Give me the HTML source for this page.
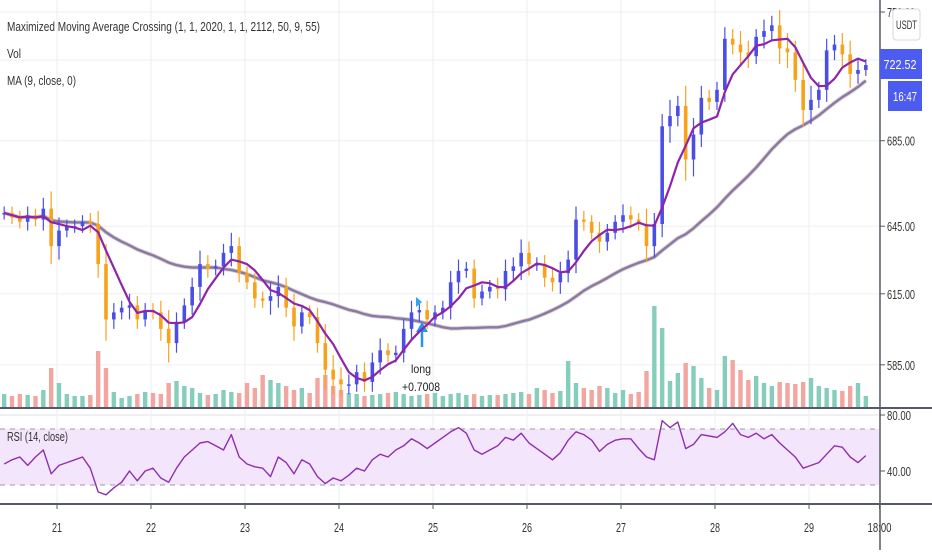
<!DOCTYPE html>
<html><head><meta charset="utf-8">
<style>
html,body{margin:0;padding:0;background:#fff;}
body{width:932px;height:550px;overflow:hidden;font-family:"Liberation Sans",sans-serif;}
svg text{font-family:"Liberation Sans",sans-serif;}
</style></head>
<body>
<svg id="chart" width="932" height="550" viewBox="0 0 932 550" xmlns="http://www.w3.org/2000/svg">
  <g id="grid"></g>
  <rect x="0" y="429" width="879" height="56" fill="#f3e6fc"/>
  <g id="rsiguides"></g>
  <g id="vol"></g>
  <g id="ma"></g>
  <g id="candles"></g>
  <g id="rsi"></g>
  <g id="signal">
    <polygon points="416,297 416,307 422,302" fill="#2fa7f0"/>
    <line x1="422" y1="330" x2="422" y2="347" stroke="#2196f3" stroke-width="2.5"/>
    <polygon points="416,332 422,322 428,332" fill="#2196f3"/>
    <text x="421" y="373" font-size="12" text-anchor="middle" fill="#222" textLength="20" lengthAdjust="spacingAndGlyphs">long</text>
    <text x="421" y="391" font-size="12" text-anchor="middle" fill="#222" textLength="38" lengthAdjust="spacingAndGlyphs">+0.7008</text>
  </g>
  <g id="axes">
    <line x1="880" y1="0" x2="880" y2="550" stroke="#555a66" stroke-width="1.5"/>
    <line x1="0" y1="408" x2="932" y2="408" stroke="#555a66" stroke-width="2"/>
    <line x1="0" y1="504" x2="932" y2="504" stroke="#555a66" stroke-width="2"/>
  </g>
  <g id="ylabels"></g>
  <g id="xlabels"></g>
  <g font-size="13" fill="#333">
    <text x="7" y="31" textLength="313" lengthAdjust="spacingAndGlyphs">Maximized Moving Average Crossing  (1, 1, 2020, 1, 1, 2112, 50, 9, 55)</text>
    <text x="7" y="58" textLength="14" lengthAdjust="spacingAndGlyphs">Vol</text>
    <text x="7" y="85" textLength="69" lengthAdjust="spacingAndGlyphs">MA (9, close, 0)</text>
    <text x="7" y="441" textLength="61" lengthAdjust="spacingAndGlyphs">RSI (14, close)</text>
  </g>
  <g>
    <rect x="893" y="9" width="27" height="31" rx="3" fill="#fff" stroke="#d6d8de"/>
    <text x="906.5" y="29" font-size="12" text-anchor="middle" fill="#333" textLength="21" lengthAdjust="spacingAndGlyphs">USDT</text>
  </g>
  <g>
    <rect x="880" y="49" width="42" height="30" fill="#4d5cf0"/>
    <text x="900" y="69" font-size="13" text-anchor="middle" fill="#fff" textLength="33" lengthAdjust="spacingAndGlyphs">722.52</text>
  </g>
  <g>
    <rect x="888" y="81" width="34" height="30" fill="#4d5cf0"/>
    <text x="905" y="101" font-size="13" text-anchor="middle" fill="#fff" textLength="24" lengthAdjust="spacingAndGlyphs">16:47</text>
  </g>
</svg>
<script>
// ---- data (2-hour bars, reading from the picture) ----
const closes = [651,649,647,650,648,653,636,643,645,645,647,646,628,604,607,609,610,604,608,607,600,594,603,610,618,628,626,627,633,636,624,620,613,612,614,618,609,601,607,605,594,583,579,577,577,582,578,586,591,589,590,600,607,608,604,607,609,620,625,626,613,616,618,617,625,627,633,628,628,622,620,624,630,648,647,642,638,642,647,650,648,646,636,646,692,697,702,676,688,706,704,710,736,733,729,727,737,740,743,731,729,715,700,705,710,730,733,728,718,720,722.5];
const wicks = [3,3,3,4,3,5,8,6,3,3,3,4,6,9,4,3,5,4,3,3,5,8,4,3,4,6,4,3,4,6,4,3,4,3,6,5,4,6,3,3,4,8,6,5,4,3,4,4,5,3,3,4,5,4,4,3,3,5,5,3,4,3,3,4,5,4,6,5,3,4,4,5,4,6,4,3,5,4,3,5,4,3,7,5,6,8,5,10,8,6,4,4,6,5,7,6,4,6,5,8,8,6,8,7,4,6,5,6,7,5,3];
const volumes = [14,12,14,13,12,18,40,25,14,12,12,13,57,40,16,10,12,14,16,15,14,25,27,22,20,15,13,14,18,16,15,25,20,33,28,25,22,18,20,15,30,33,22,18,15,14,12,13,14,15,16,14,12,13,14,15,12,14,15,13,14,12,13,13,14,15,16,14,20,18,15,17,47,25,20,18,22,20,15,18,14,16,37,102,80,27,35,45,42,30,20,18,52,48,38,28,32,25,22,26,25,24,26,30,22,20,18,17,22,25,12];
const rsiValues = [45,48,50,44,50,55,38,44,46,48,50,42,25,23,28,32,40,33,40,42,35,32,42,50,55,60,61,58,55,66,50,45,43,42,36,50,46,38,48,45,36,31,35,33,37,42,40,48,52,50,55,58,63,60,56,60,64,68,71,67,55,52,55,58,64,62,67,60,56,52,48,53,62,68,66,62,54,59,62,63,63,56,50,48,76,71,75,56,59,66,65,64,68,74,66,64,67,63,66,60,55,50,42,44,46,52,58,57,50,46,51];
const dayLabels = ["21","22","23","24","25","26","27","28","29","18:00"];
const dayHours = [0,24,48,72,96,120,144,168,192,210];
const priceTicks = [750,725,685,645,615,585];
const priceTickLabels = ["750.00","","685.00","645.00","615.00","585.00"];
const rsiTicks = [80,40];
const rsiTickLabels = ["80.00","40.00"];
const fastPeriod = 5, slowPeriod = 28;

// ---- scales ----
const NS = "http://www.w3.org/2000/svg";
const X0 = 57, PX_PER_HOUR = 94/24, FIRST_HOUR = -14, BAR_HOURS = 2;
function xHour(h){ return X0 + h*PX_PER_HOUR; }
function xBar(i){ return xHour(FIRST_HOUR + i*BAR_HOURS) + 2; }
function yPrice(p){ return 12 + 1420*Math.log(750/p); }
function yRsi(r){ return 429 + (70 - r)*1.4; }
const VOL_BASE = 408, VOL_PX = 1.0;
function yVol(v){ return VOL_BASE - v*VOL_PX; }

function mk(tag, attrs, parent){
  const e = document.createElementNS(NS, tag);
  for (const k in attrs) e.setAttribute(k, attrs[k]);
  parent.appendChild(e); return e;
}
const G = id => document.getElementById(id);

// grid
const grid = G("grid");
priceTicks.forEach((p,k)=>{
  const l = mk("line",{x1:0,x2:880,y1:yPrice(p),y2:yPrice(p),stroke:"#edf0f4","stroke-width":1.2},grid);
  
  
});
rsiTicks.forEach(r=>{
  const l = mk("line",{x1:0,x2:880,y1:yRsi(r),y2:yRsi(r),stroke:"#e6e8ee","stroke-width":1.2},grid);
  
  
});
dayHours.forEach(h=>{
  const l = mk("line",{x1:xHour(h),x2:xHour(h),y1:0,y2:504,stroke:"#edf0f4","stroke-width":1.2},grid);
  
  
});

// rsi guides
const rg = G("rsiguides");
[70,30].forEach(r=>{
  const l = mk("line",{x1:0,x2:879,y1:yRsi(r),y2:yRsi(r),stroke:"#9a9aa6","stroke-width":1,"stroke-dasharray":"5,5"},rg);
  
  
});

// volume
const vg = G("vol");
volumes.forEach((v,i)=>{
  const o = i>0 ? closes[i-1] : closes[0];
  const up = closes[i] >= o;
  const r = mk("rect",{x:xBar(i)-2.2,y:yVol(v),width:4.4,height:v*VOL_PX,fill: up ? "#86cdbb" : "#f3a5a0"},vg);
  
  
});

// moving averages
function sma(arr, n){
  return arr.map((_,i)=>{ const s = Math.max(0,i-n+1); let t=0; for(let j=s;j<=i;j++) t+=arr[j]; return t/(i-s+1); });
}
function pathOf(vals, yf){ return vals.map((v,i)=>(i?"L":"M")+xBar(i).toFixed(1)+","+yf(v).toFixed(1)).join(" "); }
const mg = G("ma");
const slow = sma(closes, slowPeriod), fast = sma(closes, fastPeriod);
const sh = mk("path",{d:pathOf(slow,yPrice),fill:"none",stroke:"#efc6c9","stroke-width":4.2,"stroke-linejoin":"round"},mg);


const sp = mk("path",{d:pathOf(slow,yPrice),fill:"none",stroke:"#7c7fa8","stroke-width":2.4,"stroke-linejoin":"round"},mg);



// candles
const cg = G("candles");
closes.forEach((c,i)=>{
  const o = i>0 ? closes[i-1] : closes[0];
  const up = c >= o;
  const col = up ? "#4a4ee6" : "#f7a21b";
  const hi = Math.max(o,c)+wicks[i], lo = Math.min(o,c)-wicks[i];
  const g = mk("g",{},cg);
  
  
  const x = xBar(i);
  mk("line",{x1:x,x2:x,y1:yPrice(hi),y2:yPrice(lo),stroke:col,"stroke-width":1.2},g);
  const yt = yPrice(Math.max(o,c)), yb = yPrice(Math.min(o,c));
  mk("rect",{x:x-1.8,y:yt,width:3.6,height:Math.max(1.5,yb-yt),fill:col},g);
});

const fp = mk("path",{d:pathOf(fast,yPrice),fill:"none",stroke:"#8e24aa","stroke-width":2.2,"stroke-linejoin":"round"},mg.parentNode);



// rsi
const rl = mk("path",{d:pathOf(rsiValues,yRsi),fill:"none",stroke:"#8e2fae","stroke-width":1.4,"stroke-linejoin":"round"},G("rsi"));



// axis labels
const yl = G("ylabels");
priceTicks.forEach((p,k)=>{
  if(!priceTickLabels[k]) return;
  const y = yPrice(p);
  mk("line",{x1:880,x2:885,y1:y,y2:y,stroke:"#555a66"},yl);
  const t = mk("text",{x:887,y:y+5,"font-size":13,fill:"#333",textLength:28,lengthAdjust:"spacingAndGlyphs"},yl);
  t.textContent = priceTickLabels[k];
  
  
});
rsiTicks.forEach((r,k)=>{
  const y = yRsi(r);
  mk("line",{x1:880,x2:885,y1:y,y2:y,stroke:"#555a66"},yl);
  const t = mk("text",{x:887,y:y+5,"font-size":13,fill:"#333",textLength:24,lengthAdjust:"spacingAndGlyphs"},yl);
  t.textContent = rsiTickLabels[k];
  
  
});
const xl = G("xlabels");
dayLabels.forEach((d,k)=>{
  const x = xHour(dayHours[k]);
  mk("line",{x1:x,x2:x,y1:504,y2:509,stroke:"#555a66"},xl);
  const t = mk("text",{x:x,y:532,"font-size":13,"text-anchor":"middle",fill:"#333"},xl);
  t.textContent = d;
  if (d.length > 2) { t.setAttribute('textLength', '24'); t.setAttribute('lengthAdjust', 'spacingAndGlyphs'); }
  else { t.setAttribute('textLength', '10'); t.setAttribute('lengthAdjust', 'spacingAndGlyphs'); }
  
  
});
</script>
</body></html>
